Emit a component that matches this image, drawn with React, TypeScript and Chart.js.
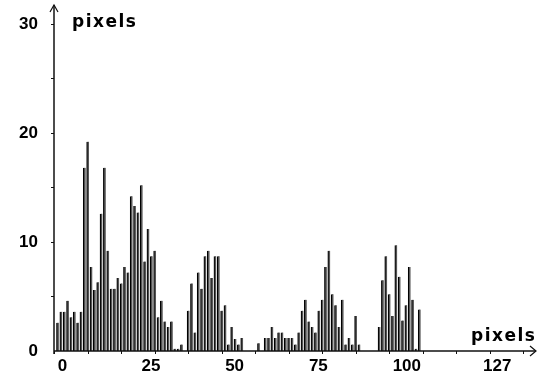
import React, { useEffect, useRef } from "react";
import { Chart, registerables } from "chart.js";

Chart.register(...registerables);

// pixel value bins 0..127
const bins: number[] = Array.from({ length: 128 }, (_, i) => i);

// histogram heights (bins 0..127)
const counts: number[] = [
  2.6, 3.6, 3.6, 4.6, 3.1, 3.6, 2.6, 3.6, 16.8, 19.2,
  7.7, 5.6, 6.3, 12.6, 16.8, 9.2, 5.7, 5.7, 6.7, 6.2,
  7.7, 7.2, 14.2, 13.3, 12.7, 15.2, 8.2, 11.2, 8.7, 9.2,
  3.1, 4.6, 2.7, 2.2, 2.7, 0.2, 0.2, 0.6, 0, 3.7,
  6.2, 1.7, 7.2, 5.7, 8.7, 9.2, 6.7, 8.7, 8.7, 3.7,
  4.2, 0.6, 2.2, 1.1, 0.6, 1.2, 0, 0, 0, 0,
  0.7, 0, 1.2, 1.2, 2.2, 1.2, 1.7, 1.7, 1.2, 1.2,
  1.2, 0.6, 1.7, 3.7, 4.7, 2.7, 2.2, 1.7, 3.7, 4.7,
  7.7, 9.2, 5.2, 4.2, 2.2, 4.7, 0.6, 1.2, 0.6, 3.2,
  0.6, 0, 0, 0, 0, 0, 2.2, 6.5, 8.7, 5.2,
  3.2, 9.7, 6.8, 2.8, 4.2, 7.7, 4.7, 0.2, 3.8, 0,
  0, 0, 0, 0, 0, 0, 0, 0, 0, 0,
  0, 0, 0, 0, 0, 0, 0, 0,
];

const xTickValues: number[] = [0, 25, 50, 75, 100, 127];
const yTickValues: number[] = [0, 10, 20, 30];
const xMinorTicks: number[] = [-1, 9, 19, 29, 39, 49, 59, 69, 79, 89, 99, 109, 119, 129, 139];
const yMinorTicks: number[] = [5, 10, 15, 20, 25, 30];
const yAxisTitle = "pixels";
const xAxisTitle = "pixels";

const tickFont = { family: '"Liberation Sans", Arial, sans-serif', size: 17, weight: "bold" as const };

const axesPlugin = {
  id: "axesArrows",
  afterDraw(chart: any) {
    const { ctx, chartArea, scales } = chart;
    const x0 = chartArea.left;
    const y0 = chartArea.bottom;
    const top = chartArea.top;
    const right = chartArea.right;
    ctx.save();
    ctx.strokeStyle = "#111";
    ctx.lineWidth = 1.5;
    // y axis
    ctx.beginPath();
    ctx.moveTo(x0, y0 + 3);
    ctx.lineTo(x0, top);
    ctx.stroke();
    ctx.lineWidth = 1.2;
    ctx.beginPath();
    ctx.moveTo(x0 - 4, top + 7);
    ctx.lineTo(x0, top);
    ctx.lineTo(x0 + 4, top + 7);
    ctx.stroke();
    // x axis
    ctx.lineWidth = 1.5;
    ctx.beginPath();
    ctx.moveTo(x0, y0);
    ctx.lineTo(right, y0);
    ctx.stroke();
    ctx.lineWidth = 1.2;
    ctx.beginPath();
    ctx.moveTo(right - 6, y0 - 5);
    ctx.lineTo(right, y0);
    ctx.lineTo(right - 6, y0 + 5);
    ctx.stroke();
    // minor ticks
    ctx.lineWidth = 1;
    for (const v of yMinorTicks) {
      const y = Math.round(scales.y.getPixelForValue(v)) + 0.5;
      ctx.beginPath();
      ctx.moveTo(x0 - 3, y);
      ctx.lineTo(x0, y);
      ctx.stroke();
    }
    for (const v of xMinorTicks) {
      const x = Math.round(scales.x.getPixelForValue(v)) + 0.5;
      if (x > right - 8) continue;
      ctx.beginPath();
      ctx.moveTo(x, y0);
      ctx.lineTo(x, y0 + 3);
      ctx.stroke();
    }
    // axis titles
    ctx.fillStyle = "#000";
    ctx.font = 'bold 17px "DejaVu Sans", sans-serif';
    try { (ctx as any).letterSpacing = "1.5px"; } catch (e) {}
    ctx.textAlign = "left";
    ctx.textBaseline = "alphabetic";
    ctx.fillText(yAxisTitle, x0 + 18, top + 22);
    ctx.fillText(xAxisTitle, right - 65, y0 - 10);
    ctx.restore();
  },
};

export default function App() {
  const canvasRef = useRef<HTMLCanvasElement | null>(null);

  useEffect(() => {
    if (!canvasRef.current) return;
    const chart = new Chart(canvasRef.current, {
      type: "bar",
      data: {
        datasets: [
          {
            data: bins.map((b, i) => ({ x: b, y: counts[i] })),
            backgroundColor: "#555",
            borderColor: "#000",
            borderWidth: { left: 1.2, right: 0, top: 0, bottom: 0 } as any,
            borderSkipped: "start",
            barThickness: 2.4,
          } as any,
        ],
      },
      options: {
        animation: false,
        responsive: false,
        maintainAspectRatio: false,
        layout: { padding: { top: 5, right: 8, left: 0, bottom: 0 } },
        plugins: { legend: { display: false }, tooltip: { enabled: false } },
        scales: {
          x: {
            type: "linear",
            min: -1.1,
            max: 142.8,
            offset: false,
            grid: { display: false, drawTicks: false },
            border: { display: false },
            afterBuildTicks: (s: any) => {
              s.ticks = xTickValues.map((v) => ({ value: v }));
            },
            afterFit: (s: any) => {
              s.height = 25;
              s.paddingLeft = 0;
              s.paddingRight = 0;
            },
            ticks: {
              autoSkip: false,
              maxRotation: 0,
              align: "start",
              padding: 5,
              color: "#000",
              font: tickFont,
              callback: (v: any) => String(v),
            },
          },
          y: {
            type: "linear",
            min: 0,
            max: 31.74,
            grid: { display: false, drawTicks: false },
            border: { display: false },
            afterBuildTicks: (s: any) => {
              s.ticks = yTickValues.map((v) => ({ value: v }));
            },
            afterFit: (s: any) => {
              s.width = 54;
              s.paddingTop = 0;
              s.paddingBottom = 0;
            },
            ticks: {
              padding: 16,
              color: "#000",
              font: tickFont,
              callback: (v: any) => String(v),
            },
          },
        },
      },
      plugins: [axesPlugin],
    });
    return () => chart.destroy();
  }, []);

  return (
    <div style={{ position: "absolute", left: 0, top: 0, width: 544, height: 376, background: "#fff" }}>
      <canvas ref={canvasRef} width={544} height={376} style={{ display: "block" }} />
    </div>
  );
}
